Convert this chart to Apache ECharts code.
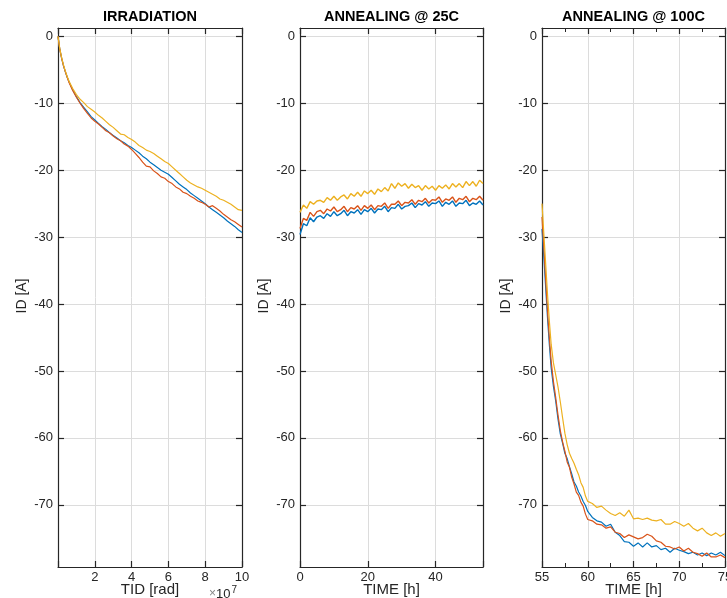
<!DOCTYPE html>
<html>
<head>
<meta charset="utf-8">
<script src="https://cdn.jsdelivr.net/npm/echarts@6/dist/echarts.min.js"></script>
<style>html,body{margin:0;padding:0;background:#fff}#c{width:727px;height:598px}</style>
</head>
<body>
<div id="c"></div>
<script>
// ---------- DATA ----------
const panelTitles = ['IRRADIATION', 'ANNEALING @ 25C', 'ANNEALING @ 100C'];
const xNames = ['TID [rad]', 'TIME [h]', 'TIME [h]'];
const yName = 'ID [A]';
const yTicks = [0, -10, -20, -30, -40, -50, -60, -70];

// Panel 1: TID in units of 1e7 rad
const tid = [0,0.1,0.2,0.3,0.4,0.5,0.6,0.8,1.0,1.2,1.4,1.6,1.8,2.0,2.2,2.4,2.6,2.8,3.0,3.2,3.4,3.6,3.8,4.0,4.2,4.4,4.6,4.8,5.0,5.2,5.4,5.6,5.8,6.0,6.2,6.4,6.6,6.8,7.0,7.2,7.4,7.6,7.8,8.0,8.2,8.4,8.6,8.8,9.0,9.2,9.4,9.6,9.8,10];
const irrBlue = [0,-2,-3.3,-4.4,-5.3,-6.1,-6.8,-8,-9,-9.9,-10.6,-11.3,-12,-12.5,-13,-13.5,-13.9,-14.4,-14.8,-15.2,-15.6,-15.9,-16.3,-16.6,-17,-17.4,-17.9,-18.3,-18.8,-19.2,-19.6,-20,-20.3,-20.6,-21.1,-21.6,-22.1,-22.5,-22.9,-23.4,-23.8,-24.2,-24.6,-25,-25.5,-25.9,-26.3,-26.7,-27.1,-27.6,-28,-28.4,-28.9,-29.3];
const irrRed = [0,-2,-3.3,-4.4,-5.3,-6.1,-6.9,-8.1,-9.1,-10,-10.8,-11.5,-12.2,-12.7,-13.1,-13.6,-14.1,-14.4,-14.9,-15.3,-15.6,-16.1,-16.4,-16.9,-17.5,-18.1,-18.8,-19.4,-19.5,-20.1,-20.5,-21,-21.2,-21.7,-22,-22.5,-22.8,-23.3,-23.5,-23.9,-24.2,-24.6,-24.8,-25.1,-25.5,-25.3,-25.7,-26.1,-26.6,-27,-27.4,-27.7,-28.1,-28.5];
const irrYellow = [0,-1.9,-3.2,-4.3,-5.2,-6,-6.7,-7.8,-8.7,-9.4,-9.9,-10.5,-10.9,-11.3,-11.8,-12.2,-12.7,-13.2,-13.6,-14.1,-14.6,-14.7,-15.1,-15.4,-15.8,-16.3,-16.6,-17,-17.2,-17.5,-17.9,-18.3,-18.7,-19,-19.5,-20,-20.5,-21,-21.5,-21.9,-22.2,-22.5,-22.7,-23,-23.3,-23.6,-23.9,-24.3,-24.5,-24.8,-25.1,-25.5,-25.9,-26];

// Panel 2: hours 0..54
const t25 = [0,1,2,3,4,5,6,7,8,9,10,11,12,13,14,15,16,17,18,19,20,21,22,23,24,25,26,27,28,29,30,31,32,33,34,35,36,37,38,39,40,41,42,43,44,45,46,47,48,49,50,51,52,53,54];
const a25Blue = [-29.6,-28.0,-28.3,-27.1,-27.7,-27.0,-26.8,-27.2,-26.5,-26.9,-26.2,-26.8,-26.5,-26.0,-26.8,-26.2,-26.4,-25.9,-26.6,-25.9,-26.2,-25.7,-26.4,-25.8,-25.9,-25.4,-26.2,-25.6,-25.7,-25.1,-25.8,-25.4,-25.3,-24.9,-25.6,-25.0,-25.2,-24.7,-25.4,-24.9,-25.0,-24.6,-25.4,-24.8,-25.1,-24.6,-25.4,-24.9,-25.0,-24.5,-25.3,-24.9,-25.1,-24.6,-25.2];
const a25Red = [-28.7,-27.2,-27.5,-26.3,-26.9,-26.2,-26.0,-26.5,-25.8,-26.1,-25.5,-26.2,-25.9,-25.4,-26.2,-25.6,-25.8,-25.3,-26.0,-25.3,-25.7,-25.2,-25.9,-25.3,-25.4,-24.9,-25.7,-25.1,-25.1,-24.6,-25.3,-24.8,-24.9,-24.4,-25.1,-24.5,-24.7,-24.2,-24.9,-24.4,-24.5,-24.0,-24.8,-24.3,-24.5,-24.0,-24.8,-24.2,-24.4,-23.9,-24.7,-24.2,-24.4,-23.9,-24.5];
const a25Yellow = [-26.3,-25.2,-25.7,-24.7,-25.1,-24.6,-24.5,-24.8,-24.1,-24.5,-23.9,-24.5,-24.0,-23.7,-24.3,-23.5,-23.9,-23.3,-23.9,-23.1,-23.5,-23.0,-23.6,-22.8,-23.2,-22.6,-23.1,-22.0,-22.7,-21.9,-22.4,-22.0,-22.7,-22.1,-22.6,-22.3,-23.0,-22.3,-22.8,-22.4,-23.0,-22.3,-22.7,-22.2,-22.8,-22.0,-22.5,-22.0,-22.6,-21.7,-22.3,-21.7,-22.4,-21.5,-22.0];

// Panel 3: hours 55..75
const t100 = [55,55.2,55.4,55.6,55.8,56,56.25,56.5,56.75,57,57.25,57.5,57.75,58,58.25,58.5,58.75,59,59.25,59.5,59.75,60,60.5,61,61.5,62,62.5,63,63.5,64,64.5,65,65.5,66,66.5,67,67.5,68,68.5,69,69.5,70,70.5,71,71.5,72,72.5,73,73.5,74,74.5,75];
const a100Blue = [-28.8,-33,-37.5,-42,-46,-49.5,-52.3,-54.5,-57.2,-59.4,-60.8,-62.3,-63.1,-64.3,-65.4,-66.6,-67.2,-68.1,-68.7,-69.5,-70.1,-71.0,-71.9,-72.4,-72.6,-73.2,-72.9,-74.1,-74.6,-75.5,-75.6,-76.2,-75.7,-76.3,-75.7,-76.3,-76.1,-76.7,-76.5,-77.1,-76.5,-76.8,-77.0,-77.3,-77.1,-77.5,-77.2,-77.6,-77.2,-77.5,-77.1,-77.6];
const a100Red = [-27.0,-31.5,-36.3,-41.0,-45.0,-48.5,-51.6,-54.0,-56.6,-58.9,-60.6,-62.0,-63.6,-64.4,-65.9,-66.9,-68.1,-68.6,-69.6,-70.2,-71.4,-72.2,-72.4,-72.9,-73.0,-73.5,-73.3,-74.1,-74.3,-74.9,-74.5,-74.8,-75.1,-74.9,-74.4,-74.7,-75.4,-75.6,-76.2,-76.3,-76.6,-76.3,-76.9,-76.5,-77.1,-77.3,-77.7,-77.2,-77.8,-77.8,-77.5,-77.9];
const a100Yellow = [-25.0,-29.5,-34.0,-38.5,-42.5,-46.0,-48.8,-50.6,-52.4,-54.6,-57.0,-59.3,-61.0,-62.3,-63.1,-63.8,-64.7,-65.5,-66.7,-67.4,-68.7,-69.5,-69.8,-70.4,-70.2,-70.8,-71.3,-71.6,-71.2,-71.7,-70.8,-72.1,-72.0,-72.2,-72.0,-72.3,-72.4,-72.2,-72.9,-72.9,-72.5,-72.8,-73.2,-72.8,-73.5,-73.9,-73.5,-74.2,-74.6,-74.2,-74.7,-74.3];

// ---------- CHART ----------
const colors = ['#0072BD', '#D95319', '#EDB120'];
const FONT = 'Liberation Sans, Arial, Helvetica, sans-serif';
const axisColor = '#262626';
const gridColor = '#dcdcdc';
const yMin = -79.3, yMax = 1.25;

const grids = [
  {left: 58, top: 28, width: 184, height: 539},
  {left: 300, top: 28, width: 183, height: 539},
  {left: 542, top: 28, width: 183, height: 539}
];
const xCfg = [
  {min: 0, max: 10, interval: 2, hideZero: true, minor: false},
  {min: 0, max: 54, interval: 20, hideZero: false, minor: false},
  {min: 55, max: 75, interval: 5, hideZero: false, minor: true}
];

function isMult(v, step) { return Math.abs(v / step - Math.round(v / step)) < 1e-6; }

const xAxis = [], yAxis = [];
grids.forEach((g, i) => {
  const c = xCfg[i];
  const base = {
    type: 'value', gridIndex: i, min: c.min, max: c.max, interval: c.interval,
    axisLine: {show: true, onZero: false, lineStyle: {color: axisColor, width: 1.2}},
    axisTick: {show: true, inside: true, length: 6, lineStyle: {color: axisColor, width: 1.2}},
    minorTick: {show: c.minor, splitNumber: 2, length: 4, lineStyle: {color: axisColor, width: 1}}
  };
  xAxis.push(Object.assign({}, base, {
    position: 'bottom',
    splitLine: {show: true, lineStyle: {color: gridColor, width: 1}},
    axisLabel: {
      show: true, color: axisColor, fontFamily: FONT, fontSize: 13, margin: 4,
      formatter: v => (!isMult(v, c.interval) || (c.hideZero && v === 0)) ? '' : String(v)
    }
  }));
  xAxis.push(Object.assign({}, base, {
    position: 'top', splitLine: {show: false}, axisLabel: {show: false}
  }));
  const ybase = {
    type: 'value', gridIndex: i, min: yMin, max: yMax,
    axisLine: {show: true, onZero: false, lineStyle: {color: axisColor, width: 1.2}},
    axisTick: {show: true, inside: true, length: 6, customValues: yTicks, lineStyle: {color: axisColor, width: 1.2}}
  };
  yAxis.push(Object.assign({}, ybase, {
    position: 'left',
    splitLine: {show: true, lineStyle: {color: gridColor, width: 1}},
    axisLabel: {
      show: true, color: axisColor, fontFamily: FONT, fontSize: 13, margin: 5,
      customValues: yTicks,
      formatter: v => String(Math.round(v))
    }
  }));
  yAxis.push(Object.assign({}, ybase, {
    position: 'right', splitLine: {show: false}, axisLabel: {show: false}
  }));
});

function zipXY(xs, ys) { return xs.map((x, k) => [x, ys[k]]); }
const panels = [
  [tid, [irrBlue, irrRed, irrYellow]],
  [t25, [a25Blue, a25Red, a25Yellow]],
  [t100, [a100Blue, a100Red, a100Yellow]]
];
const series = [];
panels.forEach((p, i) => {
  p[1].forEach((ys, k) => {
    series.push({
      type: 'line', xAxisIndex: i * 2, yAxisIndex: i * 2,
      data: zipXY(p[0], ys), showSymbol: false, symbol: 'none',
      lineStyle: {color: colors[k], width: i === 1 ? 1.4 : 1.2},
      silent: true
    });
  });
});

const graphic = [];
const centers = grids.map(g => g.left + g.width / 2);
panelTitles.forEach((t, i) => {
  graphic.push({type: 'text', x: centers[i], y: 17, style: {text: t, font: 'bold 14.5px ' + FONT, fill: '#000', align: 'center', verticalAlign: 'middle'}});
  graphic.push({type: 'text', x: centers[i], y: 590, style: {text: xNames[i], font: '15px ' + FONT, fill: axisColor, align: 'center', verticalAlign: 'middle'}});
  graphic.push({type: 'text', x: grids[i].left - 36, y: 296, rotation: Math.PI / 2, style: {text: yName, font: '14px ' + FONT, fill: axisColor, align: 'center', verticalAlign: 'middle'}});
});
graphic.push({type: 'text', x: 209, y: 594, style: {
  text: '{a|×}{b|10}{c|7}', align: 'left', verticalAlign: 'middle',
  rich: {
    a: {font: '12px ' + FONT, fill: '#888'},
    b: {font: '13px ' + FONT, fill: axisColor},
    c: {font: '10px ' + FONT, fill: axisColor, verticalAlign: 'top', padding: [0,0,8,1]}
  }
}});

const chart = echarts.init(document.getElementById('c'), null, {renderer: 'canvas'});
chart.setOption({
  animation: false,
  backgroundColor: '#fff',
  grid: grids.map(g => Object.assign({containLabel: false, outerBoundsMode: 'none'}, g)),
  xAxis, yAxis, series, graphic
});
</script>
</body>
</html>
